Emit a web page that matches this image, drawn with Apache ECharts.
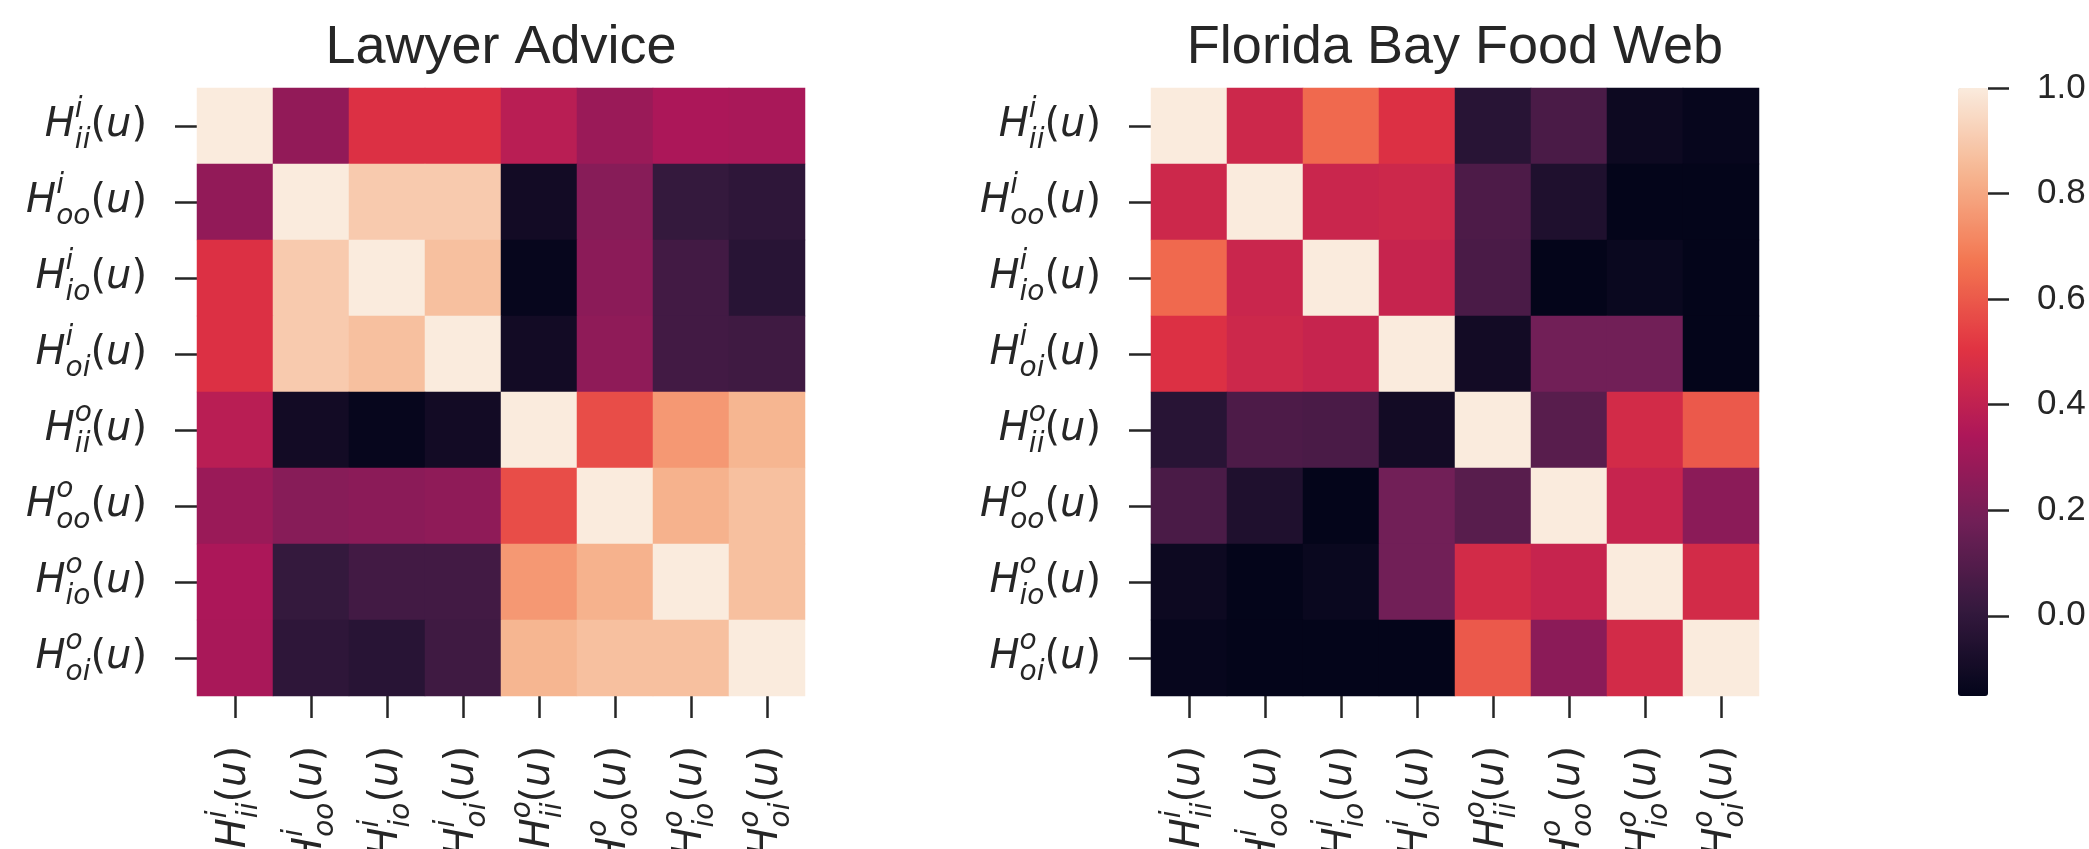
<!DOCTYPE html>
<html>
<head>
<meta charset="utf-8">
<script src="https://cdn.jsdelivr.net/npm/echarts@6/dist/echarts.min.js"></script>
<style>
html,body{margin:0;padding:0;background:#ffffff;}
#chart{width:2089px;height:849px;}
</style>
</head>
<body>
<div id="chart"></div>
<script>
// ---------------- data ----------------
const panelTitles = ['Lawyer Advice', 'Florida Bay Food Web'];
const labelSup = ['i', 'i', 'i', 'i', 'o', 'o', 'o', 'o'];
const labelSub = ['ii', 'oo', 'io', 'oi', 'ii', 'oo', 'io', 'oi'];
const categories = labelSup.map((s, k) => 'H^' + s + '_' + labelSub[k] + '(u)');

const lawyerValues = [
  [1.00, 0.27, 0.49, 0.49, 0.38, 0.29, 0.34, 0.33],
  [0.27, 1.00, 0.90, 0.90, -0.10, 0.24, 0.01, -0.01],
  [0.49, 0.90, 1.00, 0.87, -0.14, 0.25, 0.05, -0.03],
  [0.49, 0.90, 0.87, 1.00, -0.10, 0.26, 0.05, 0.04],
  [0.38, -0.10, -0.14, -0.10, 1.00, 0.57, 0.76, 0.84],
  [0.29, 0.24, 0.25, 0.26, 0.57, 1.00, 0.83, 0.87],
  [0.34, 0.01, 0.05, 0.05, 0.76, 0.83, 1.00, 0.87],
  [0.33, -0.01, -0.03, 0.04, 0.84, 0.87, 0.87, 1.00]
];

const floridaValues = [
  [1.00, 0.44, 0.64, 0.49, -0.03, 0.07, -0.12, -0.14],
  [0.44, 1.00, 0.43, 0.44, 0.08, -0.06, -0.15, -0.15],
  [0.64, 0.43, 1.00, 0.42, 0.07, -0.15, -0.13, -0.15],
  [0.49, 0.44, 0.42, 1.00, -0.10, 0.18, 0.18, -0.15],
  [-0.03, 0.08, 0.07, -0.10, 1.00, 0.11, 0.46, 0.60],
  [0.07, -0.06, -0.15, 0.18, 0.11, 1.00, 0.42, 0.25],
  [-0.12, -0.15, -0.13, 0.18, 0.46, 0.42, 1.00, 0.46],
  [-0.14, -0.15, -0.15, -0.15, 0.60, 0.25, 0.46, 1.00]
];

const colorbarTickMin = 0.0;
const colorbarTickMax = 1.0;
const colorbarTickStep = 0.2;
const colorMin = -0.152;
const colorMax = 1.0;

// seaborn "rocket" colour map stops (evenly spaced)
const rocketColors = ['#03051A', '#35193E', '#701F57', '#AD1759', '#E13342', '#F37651', '#F6B48F', '#FAEBDD'];

// ---------------- layout / style ----------------
const ink = '#262626';
const gridTop = 88, gridSize = 608;
const gridLefts = [197, 1151];
const cbLeft = 1958, cbWidth = 30;
const mathFont = 'DejaVu Sans';
const textFont = 'Liberation Sans';
const mainSize = 40, scriptSize = 28;
const tickLen = 22, tickPad = 28;

function scriptWidth(str) {
  let w = 0;
  for (const c of str) w += (c === 'i' ? 0.278 : 0.612) * scriptSize;
  return Math.round(w * 10) / 10;
}

const rich = {
  H: {fontFamily: mathFont, fontStyle: 'italic', fontSize: mainSize, color: ink},
  u: {fontFamily: mathFont, fontStyle: 'italic', fontSize: mainSize, color: ink},
  p: {fontFamily: mathFont, fontSize: mainSize, color: ink},
  uh: {fontFamily: mathFont, fontStyle: 'italic', fontSize: mainSize, color: 'rgba(0,0,0,0)'},
  ph: {fontFamily: mathFont, fontSize: mainSize, color: 'rgba(0,0,0,0)'}
};
labelSub.forEach((sub, k) => {
  const w = scriptWidth(sub);
  rich['b' + k] = {fontFamily: mathFont, fontStyle: 'italic', fontSize: scriptSize, color: ink,
                   width: w, align: 'left', padding: [30, 0, 0, 0]};
  rich['s' + k] = {fontFamily: mathFont, fontStyle: 'italic', fontSize: scriptSize, color: ink,
                   width: w, align: 'left'};
});

function mainLabel(v, k) {
  return '{H|H}{b' + k + '|' + labelSub[k] + '}{p|(}{u|u}{p|)}';
}
function supLabel(v, k) {
  return '{s' + k + '|' + labelSup[k] + '}{ph|(}{uh|u}{ph|)}';
}

const tickStyle = {show: true, length: tickLen, alignWithLabel: true, interval: 0,
                   lineStyle: {color: ink, width: 2.5}};

const grids = [], xAxes = [], yAxes = [], series = [];
[lawyerValues, floridaValues].forEach((mat, g) => {
  grids.push({left: gridLefts[g], top: gridTop, width: gridSize, height: gridSize,
              containLabel: false, outerBoundsMode: 'none'});
  const xi = xAxes.length, yi = yAxes.length;
  xAxes.push({type: 'category', gridIndex: g, position: 'bottom', data: categories,
    axisLine: {show: false}, splitLine: {show: false}, axisTick: tickStyle,
    axisLabel: {interval: 0, rotate: 90, margin: tickLen + tickPad, formatter: mainLabel, rich: rich}});
  xAxes.push({type: 'category', gridIndex: g, position: 'bottom', data: categories,
    axisLine: {show: false}, splitLine: {show: false}, axisTick: {show: false},
    axisLabel: {interval: 0, rotate: 90, margin: tickLen + tickPad, formatter: supLabel, rich: rich,
                padding: [0, 0, 32, 0]}});
  yAxes.push({type: 'category', gridIndex: g, position: 'left', inverse: true, data: categories,
    axisLine: {show: false}, splitLine: {show: false}, axisTick: tickStyle,
    axisLabel: {interval: 0, margin: tickLen + tickPad, formatter: mainLabel, rich: rich}});
  yAxes.push({type: 'category', gridIndex: g, position: 'left', inverse: true, data: categories,
    axisLine: {show: false}, splitLine: {show: false}, axisTick: {show: false},
    axisLabel: {interval: 0, margin: tickLen + tickPad, formatter: supLabel, rich: rich,
                padding: [0, 0, 32, 0]}});
  const data = [];
  mat.forEach((row, r) => row.forEach((v, c) => data.push([c, r, v])));
  series.push({type: 'heatmap', xAxisIndex: xi, yAxisIndex: yi, data: data,
    itemStyle: {borderWidth: 0}, emphasis: {disabled: true}, progressive: 0, silent: true});
});

// colour bar tick axis: spans the part of the bar from 0.0 up to 1.0
const tickAxisHeight = gridSize * (colorbarTickMax - colorbarTickMin) / (colorMax - colorMin);
grids.push({left: cbLeft, top: gridTop + gridSize * (colorMax - colorbarTickMax) / (colorMax - colorMin),
            width: cbWidth, height: tickAxisHeight, containLabel: false, outerBoundsMode: 'none'});
xAxes.push({type: 'category', gridIndex: 2, show: false, data: ['']});
yAxes.push({type: 'value', gridIndex: 2, position: 'right', z: 10,
  min: colorbarTickMin, max: colorbarTickMax, interval: colorbarTickStep,
  axisLine: {show: false, onZero: false}, splitLine: {show: false},
  axisTick: {show: true, inside: false, length: 21, lineStyle: {color: ink, width: 2.5}},
  axisLabel: {inside: false, formatter: v => v.toFixed(1), margin: 49,
              fontFamily: textFont, fontSize: 35, color: ink}});
series.push({type: 'line', xAxisIndex: 4, yAxisIndex: 4, data: [], silent: true});

const option = {
  animation: false,
  backgroundColor: '#ffffff',
  grid: grids,
  xAxis: xAxes,
  yAxis: yAxes,
  visualMap: {
    type: 'continuous', min: colorMin, max: colorMax, seriesIndex: [0, 1],
    calculable: false, hoverLink: false, orient: 'vertical', z: 1,
    left: cbLeft, top: gridTop, itemWidth: cbWidth, itemHeight: gridSize, padding: 0,
    inRange: {color: rocketColors}
  },
  graphic: panelTitles.map((t, g) => ({
    type: 'text', x: gridLefts[g] + gridSize / 2, y: 48,
    style: {text: t, fontFamily: textFont, fontSize: 54, fill: ink,
            align: 'center', verticalAlign: 'middle', textAlign: 'center', textVerticalAlign: 'middle'}
  })),
  series: series
};

const chart = echarts.init(document.getElementById('chart'), null, {renderer: 'canvas'});
chart.setOption(option);
</script>
</body>
</html>
